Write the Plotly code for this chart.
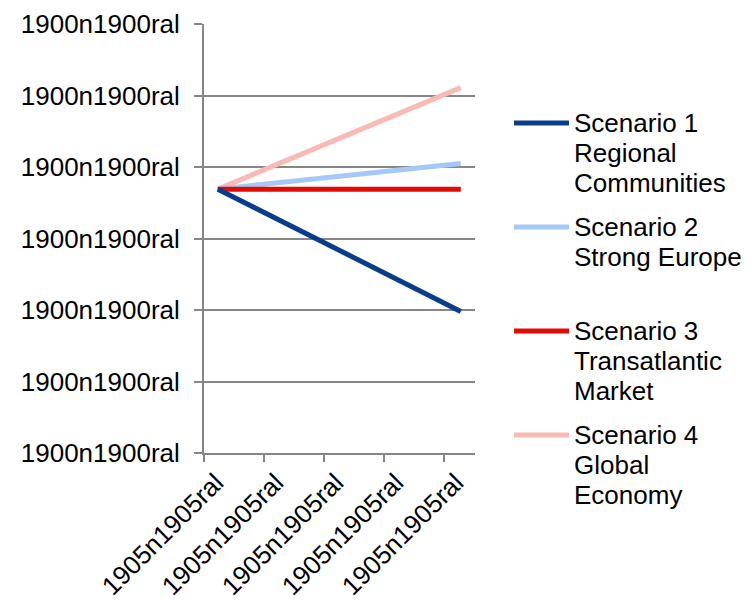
import plotly.graph_objects as go

# Period positions on the horizontal axis and their labels
period_ticks = [0, 1, 2, 3, 4]
period_labels = ["1905n1905ral"] * 5
x_points = [0.23, 4.28]

# Vertical axis ticks and labels
value_ticks = [0, 1, 2, 3, 4, 5, 6]
value_labels = ["1900n1900ral"] * 7

# Scenario series
series_names = [
    "Scenario 1 Regional Communities",
    "Scenario 2 Strong Europe",
    "Scenario 3 Transatlantic Market",
    "Scenario 4 Global Economy",
]
legend_lines = [
    ["Scenario 1", "Regional", "Communities"],
    ["Scenario 2", "Strong Europe"],
    ["Scenario 3", "Transatlantic", "Market"],
    ["Scenario 4", "Global", "Economy"],
]
series_values = [
    [3.69, 1.98],
    [3.69, 4.05],
    [3.69, 3.69],
    [3.69, 5.11],
]
series_colors = ["#0B3C8A", "#A6C8F8", "#E20A04", "#F9B9B5"]

FONT = "Liberation Sans, Arial, sans-serif"
W, H = 746, 600
L, R, T, B = 204, 271, 24, 147
plot_w = W - L - R
plot_h = H - T - B

fig = go.Figure()
# draw order: light series first so the dark lines sit on top at the origin
for i in [3, 1, 2, 0]:
    fig.add_trace(go.Scatter(
        x=x_points, y=series_values[i], mode="lines", name=series_names[i],
        line=dict(color=series_colors[i], width=5), showlegend=False,
    ))

# Hand-built legend: a short line swatch followed by stacked text lines
item_top = [123, 227, 331, 435]
line_gap = 30
for i, lines in enumerate(legend_lines):
    yc = item_top[i]
    yp = (H - B - yc) / plot_h
    fig.add_shape(type="line", xref="paper", yref="paper",
                  x0=(514 - L) / plot_w, x1=(569 - L) / plot_w, y0=yp, y1=yp,
                  line=dict(color=series_colors[i], width=5))
    for j, txt in enumerate(lines):
        ypj = (H - B - (yc + j * line_gap)) / plot_h
        fig.add_annotation(text=txt, xref="paper", yref="paper",
                           x=(572 - L) / plot_w, y=ypj, xanchor="left", yanchor="middle",
                           showarrow=False, font=dict(family=FONT, size=26, color="black"))

fig.update_layout(
    width=W, height=H,
    margin=dict(l=L, r=R, t=T, b=B, pad=0, autoexpand=False),
    paper_bgcolor="white", plot_bgcolor="white",
    font=dict(family=FONT, size=26, color="black"),
    showlegend=False,
)
fig.update_xaxes(
    range=[0, plot_w / 60], tickmode="array", tickvals=period_ticks, ticktext=period_labels,
    tickangle=-45, ticks="outside", ticklen=7, tickwidth=2, tickcolor="#868686",
    ticklabelstandoff=-5, ticklabelshift=12, automargin=False,
    showline=True, linecolor="#868686", linewidth=2, showgrid=False, zeroline=False,
)
fig.update_yaxes(
    range=[0, 6], tickmode="array", tickvals=value_ticks, ticktext=value_labels,
    ticks="outside", ticklen=8, tickwidth=2, tickcolor="#868686",
    ticklabelstandoff=9, automargin=False,
    showline=True, linecolor="#868686", linewidth=2,
    showgrid=True, gridcolor="#868686", gridwidth=2, zeroline=False,
)

fig.write_html("out.html")
